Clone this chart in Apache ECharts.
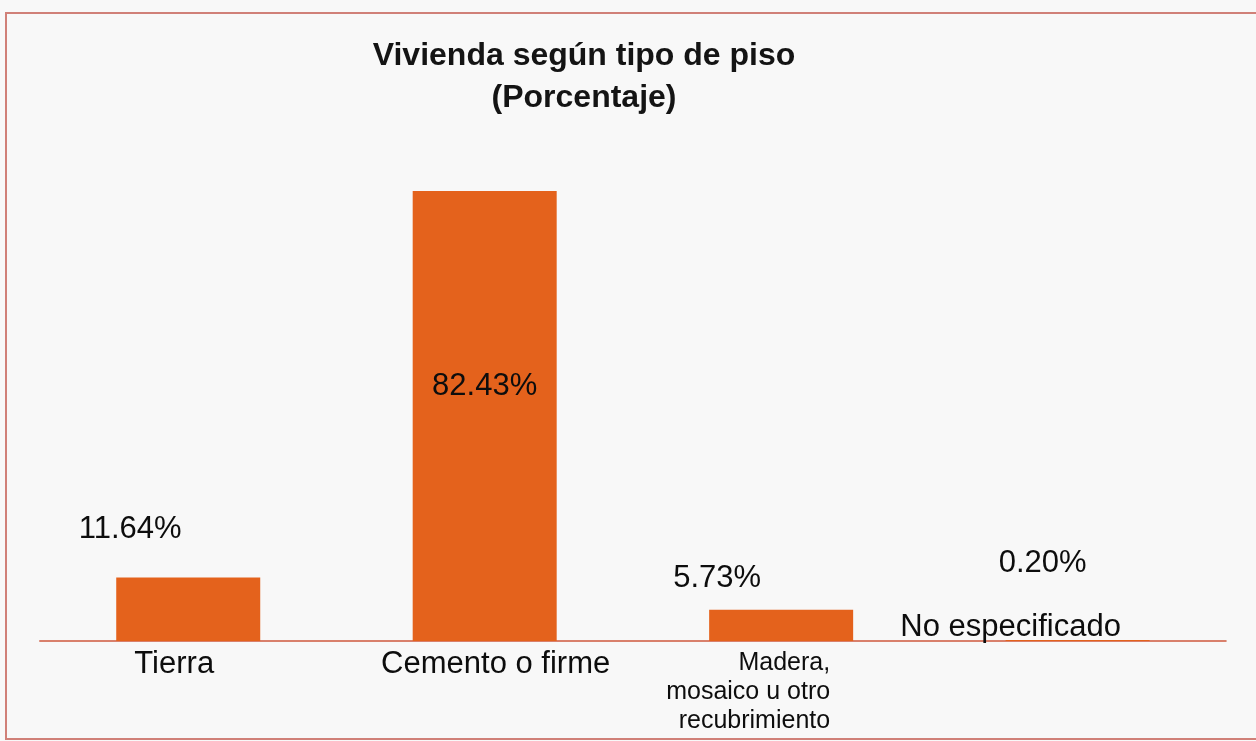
<!DOCTYPE html>
<html>
<head>
<meta charset="utf-8">
<script src="https://cdn.jsdelivr.net/npm/echarts@6/dist/echarts.min.js"></script>
<style>
  html, body { margin: 0; padding: 0; background: #f8f8f8; overflow: hidden; }
  #main { width: 1256px; height: 741px; }
</style>
</head>
<body>
<div id="main"></div>
<script>
// datos
var categorias = ["Tierra", "Cemento o firme", "Madera,\nmosaico u otro\nrecubrimiento", "No especificado"];
var porcentajes = [11.64, 82.43, 5.73, 0.20];

// posicion de cada etiqueta de valor (como en el original)
var etiquetaPos = [
    { position: "top", offset: [-58, -27] },
    { position: "inside", offset: [0, -30] },
    { position: "top", offset: [-64, -11] },
    { position: "top", offset: [-35, -56] }
];
// estilo de cada nombre de categoria
var nombreEstilo = [
    { padding: [0, 28, 0, 0] },
    { padding: [0, 0, 0, 22] },
    { fontSize: 25, lineHeight: 29, align: "right", padding: [0, -49, 0, 0] },
    { verticalAlign: "bottom", padding: [0, 134, 6, 0] }
];

var chart = echarts.init(document.getElementById("main"));

var xData = categorias.map(function (c, i) {
    return { value: c, textStyle: nombreEstilo[i] };
});
var sData = porcentajes.map(function (v, i) {
    return { value: v, label: etiquetaPos[i] };
});

var option = {
    backgroundColor: "#f8f8f8",
    animation: false,
    title: {
        text: "Vivienda según tipo de piso\n(Porcentaje)",
        left: 579,
        top: 30,
        textAlign: "center",
        textStyle: {
            fontFamily: "Liberation Sans, Arial",
            fontSize: 32,
            fontWeight: "bold",
            lineHeight: 42,
            color: "#141414"
        }
    },
    graphic: [{
        type: "rect",
        shape: { x: 6, y: 13, width: 1270, height: 726 },
        style: { fill: "none", stroke: "#d08078", lineWidth: 2 },
        silent: true
    }],
    grid: { left: 40, right: 15, top: 95, bottom: 100 },
    xAxis: {
        type: "category",
        data: xData,
        axisLine: { lineStyle: { color: "#d9806c", width: 2 } },
        axisTick: { show: false },
        axisLabel: {
            interval: 0,
            margin: 8,
            fontFamily: "Liberation Sans, Arial",
            fontSize: 31,
            lineHeight: 31,
            color: "#0d0d0d"
        }
    },
    yAxis: {
        type: "value",
        min: 0,
        max: 100,
        show: false,
        splitLine: { show: false }
    },
    series: [{
        type: "bar",
        data: sData,
        barWidth: 144,
        itemStyle: { color: "#e4621c" },
        label: {
            show: true,
            fontFamily: "Liberation Sans, Arial",
            fontSize: 31,
            color: "#0d0d0d",
            formatter: function (p) { return p.value.toFixed(2) + "%"; }
        }
    }]
};
chart.setOption(option);
</script>
</body>
</html>
